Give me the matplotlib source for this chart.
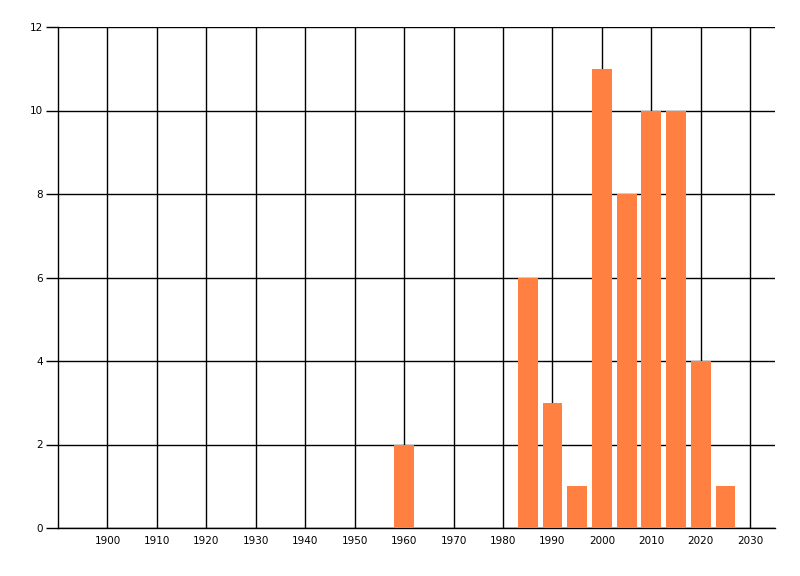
import matplotlib
matplotlib.use("Agg")
import matplotlib.pyplot as plt

years = [1960, 1985, 1990, 1995, 2000, 2005, 2010, 2015, 2020, 2025]
counts = [2, 6, 3, 1, 11, 8, 10, 10, 4, 1]
xticks = list(range(1900, 2031, 10))
yticks = list(range(0, 13, 2))

fig = plt.figure(figsize=(8, 5.76), dpi=100)
ax = fig.add_axes([58 / 800, 1 - 528 / 576, (775 - 58) / 800, (528 - 27) / 576])

ax.bar(years, counts, width=4, color="#FF8040", zorder=3)

ax.set_xlim(1890, 2035)
ax.set_ylim(0, 12)
ax.set_xticks(xticks)
ax.set_yticks(yticks)
ax.grid(True, color="black", linewidth=1, zorder=0)
ax.set_axisbelow(True)

for s in ["top", "right"]:
    ax.spines[s].set_visible(False)
ax.spines["left"].set_linewidth(1)
ax.spines["bottom"].set_linewidth(1)

ax.tick_params(axis="y", length=9, width=1, pad=2, labelsize=7.5)
ax.tick_params(axis="x", length=0, pad=6, labelsize=7.5)

fig.savefig("out.png", dpi=100)
